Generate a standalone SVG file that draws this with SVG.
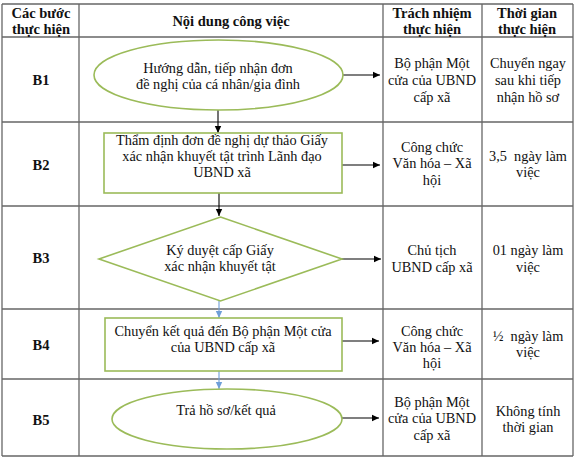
<svg xmlns="http://www.w3.org/2000/svg" width="576" height="461" viewBox="0 0 576 461">
<style>
text{font-family:"Liberation Serif","Times New Roman",serif;font-size:14.3px;fill:#111;text-anchor:middle}
.b{font-weight:bold;font-size:14.5px}
.grid line{stroke:#666;stroke-width:1.3}
.shape{fill:#fff;stroke:#9bbb59;stroke-width:1.6}
.c{stroke:#000;stroke-width:1.1;fill:none}
.cb{stroke:#6f9fd8;stroke-width:1.1;fill:none}
</style>
<defs>
<marker id="ah" markerWidth="8" markerHeight="8" refX="7" refY="4" orient="auto" markerUnits="userSpaceOnUse"><path d="M0,0.8 L7,4 L0,7.2 z" fill="#000"/></marker>
<marker id="ahb" markerWidth="8" markerHeight="8" refX="7" refY="4" orient="auto" markerUnits="userSpaceOnUse"><path d="M0,0.8 L7,4 L0,7.2 z" fill="#6f9fd8"/></marker>
</defs>
<rect width="576" height="461" fill="#fff"/>
<g class="grid" id="table">
<line x1="2" y1="4" x2="573" y2="4"/>
<line x1="2" y1="37" x2="573" y2="37"/>
<line x1="2" y1="122" x2="573" y2="122"/>
<line x1="2" y1="206" x2="573" y2="206"/>
<line x1="2" y1="309" x2="573" y2="309"/>
<line x1="2" y1="379" x2="573" y2="379"/>
<line x1="2" y1="456" x2="573" y2="456"/>
<line x1="2" y1="4" x2="2" y2="456"/>
<line x1="79" y1="4" x2="79" y2="456"/>
<line x1="383" y1="4" x2="383" y2="456"/>
<line x1="482" y1="4" x2="482" y2="456"/>
<line x1="573" y1="4" x2="573" y2="456"/>
</g>
<g id="header">
<text class="b" x="41" y="18">Các bước</text>
<text class="b" x="41" y="34">thực hiện</text>
<text class="b" x="231" y="26">Nội dung công việc</text>
<text class="b" x="432" y="18">Trách nhiệm</text>
<text class="b" x="432" y="34">thực hiện</text>
<text class="b" x="527" y="18">Thời gian</text>
<text class="b" x="527" y="34">thực hiện</text>
</g>
<g id="steps">
<text class="b" x="41" y="85">B1</text>
<text class="b" x="41" y="170">B2</text>
<text class="b" x="41" y="263">B3</text>
<text class="b" x="41" y="350">B4</text>
<text class="b" x="41" y="425">B5</text>
</g>
<g id="responsible">
<text x="432" y="68">Bộ phận Một</text>
<text x="432" y="85">cửa của UBND</text>
<text x="432" y="102">cấp xã</text>
<text x="432" y="152">Công chức</text>
<text x="432" y="168">Văn hóa – Xã</text>
<text x="432" y="185">hội</text>
<text x="432" y="255">Chủ tịch</text>
<text x="432" y="272">UBND cấp xã</text>
<text x="432" y="336">Công chức</text>
<text x="432" y="352">Văn hóa – Xã</text>
<text x="432" y="368">hội</text>
<text x="432" y="407">Bộ phận Một</text>
<text x="432" y="423">cửa của UBND</text>
<text x="432" y="440">cấp xã</text>
</g>
<g id="time">
<text x="528" y="68">Chuyển ngay</text>
<text x="528" y="85">sau khi tiếp</text>
<text x="528" y="102">nhận hồ sơ</text>
<text x="528" y="161" xml:space="preserve">3,5  ngày làm</text>
<text x="528" y="177">việc</text>
<text x="528" y="255">01 ngày làm</text>
<text x="528" y="272">việc</text>
<text x="528" y="341" xml:space="preserve">½  ngày làm</text>
<text x="528" y="357">việc</text>
<text x="528" y="416">Không tính</text>
<text x="528" y="432">thời gian</text>
</g>
<g id="connectors">
<line class="c" x1="343" y1="75" x2="380" y2="75" marker-end="url(#ah)"/>
<line class="c" x1="218" y1="110" x2="218" y2="133" marker-end="url(#ah)"/>
<line class="c" x1="342" y1="165" x2="380" y2="165" marker-end="url(#ah)"/>
<line class="c" x1="219" y1="193" x2="219" y2="216" marker-end="url(#ah)"/>
<line class="c" x1="342" y1="259" x2="381" y2="259" marker-end="url(#ah)"/>
<line class="cb" x1="219" y1="301" x2="219" y2="318" marker-end="url(#ahb)"/>
<line class="c" x1="342" y1="341" x2="379" y2="341" marker-end="url(#ah)"/>
<line class="cb" x1="219" y1="371" x2="219" y2="389" marker-end="url(#ahb)"/>
<line class="c" x1="342" y1="418" x2="379" y2="418" marker-end="url(#ah)"/>
</g>
<g id="n1">
<ellipse class="shape" cx="218.5" cy="75" rx="124.5" ry="35"/>
<text x="218" y="73">Hướng dẫn, tiếp nhận đơn</text>
<text x="218" y="89">đề nghị của cá nhân/gia đình</text>
</g>
<g id="n2">
<rect class="shape" x="104" y="133" width="238" height="60"/>
<text x="222" y="145">Thẩm định đơn đề nghị dự thảo Giấy</text>
<text x="222" y="161">xác nhận khuyết tật trình Lãnh đạo</text>
<text x="222" y="177">UBND xã</text>
</g>
<g id="n3">
<polygon class="shape" points="220.5,217 342,259 220.5,301 99,259"/>
<text x="220" y="255">Ký duyệt cấp Giấy</text>
<text x="220" y="271">xác nhận khuyết tật</text>
</g>
<g id="n4">
<rect class="shape" x="105" y="318" width="237" height="53"/>
<text x="223" y="336">Chuyển kết quả đến Bộ phận Một cửa</text>
<text x="223" y="352">của UBND cấp xã</text>
</g>
<g id="n5">
<ellipse class="shape" cx="227" cy="419" rx="115" ry="30"/>
<text x="226" y="415">Trả hồ sơ/kết quả</text>
</g>
</svg>
